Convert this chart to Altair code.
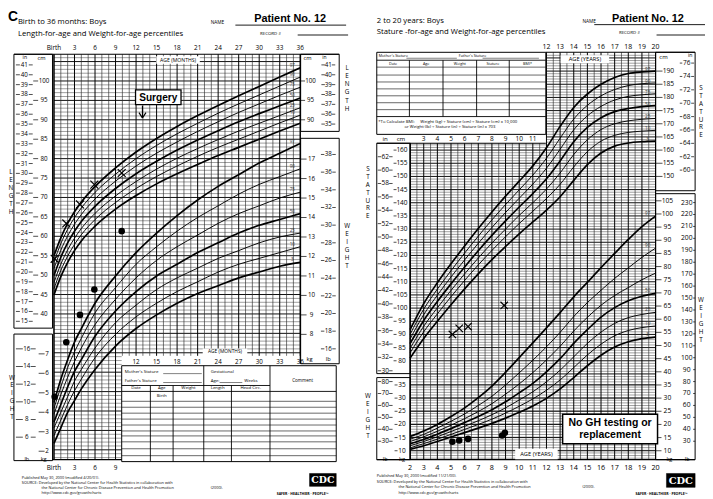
import altair as alt
import pandas as pd

# ======================= DATA =======================
PCTS = ["3", "10", "25", "50", "75", "90", "97"]
BOLD_PCTS = ["3", "50", "97"]

# Birth to 36 months, boys: length-for-age (cm)
inf_age = [0, 1, 2, 3, 4, 6, 9, 12, 15, 18, 21, 24, 27, 30, 33, 36]
len_p3 = [44.9, 49.6, 53.3, 56.3, 58.8, 62.6, 67.0, 70.5, 73.5, 76.1, 78.5, 80.8, 82.9, 85.0, 87.1, 89.1]
len_p10 = [46.5, 51.2, 54.9, 57.9, 60.4, 64.3, 68.7, 72.3, 75.4, 78.1, 80.6, 82.9, 85.0, 87.1, 89.2, 91.2]
len_p25 = [48.1, 52.8, 56.5, 59.5, 62.0, 65.9, 70.4, 74.1, 77.3, 80.1, 82.6, 84.9, 87.1, 89.1, 91.1, 93.1]
len_p50 = [49.9, 54.6, 58.3, 61.3, 63.8, 67.7, 72.3, 76.1, 79.3, 82.2, 84.8, 87.2, 89.5, 91.6, 93.6, 95.6]
len_p75 = [51.7, 56.4, 60.1, 63.1, 65.6, 69.6, 74.2, 78.1, 81.4, 84.3, 87.0, 89.5, 91.9, 94.1, 96.3, 98.4]
len_p90 = [53.4, 58.1, 61.8, 64.8, 67.3, 71.3, 76.0, 80.0, 83.4, 86.4, 89.1, 91.7, 94.1, 96.4, 98.7, 101.0]
len_p97 = [55.0, 59.6, 63.3, 66.3, 68.8, 72.8, 77.6, 81.7, 85.2, 88.3, 91.1, 93.7, 96.2, 98.6, 101.0, 103.4]

# Birth to 36 months, boys: weight-for-age (kg)
wt_p3 = [2.4, 3.2, 4.0, 4.6, 5.2, 6.2, 7.4, 8.3, 9.0, 9.6, 10.1, 10.5, 10.9, 11.2, 11.5, 11.7]
wt_p10 = [2.8, 3.6, 4.4, 5.1, 5.7, 6.8, 8.0, 8.9, 9.6, 10.2, 10.7, 11.2, 11.6, 11.9, 12.2, 12.5]
wt_p25 = [3.2, 4.0, 4.8, 5.6, 6.2, 7.3, 8.6, 9.5, 10.3, 10.9, 11.4, 11.9, 12.3, 12.7, 13.0, 13.2]
wt_p50 = [3.5, 4.4, 5.3, 6.1, 6.7, 7.9, 9.2, 10.2, 11.0, 11.6, 12.2, 12.7, 13.2, 13.6, 13.9, 14.2]
wt_p75 = [3.9, 4.9, 5.8, 6.6, 7.3, 8.5, 9.8, 10.9, 11.8, 12.5, 13.1, 13.7, 14.2, 14.6, 15.0, 15.3]
wt_p90 = [4.2, 5.3, 6.3, 7.1, 7.8, 9.1, 10.4, 11.6, 12.5, 13.3, 14.0, 14.6, 15.2, 15.7, 16.1, 16.5]
wt_p97 = [4.5, 5.7, 6.7, 7.6, 8.3, 9.6, 11.0, 12.2, 13.2, 14.1, 14.9, 15.6, 16.2, 16.8, 17.3, 17.8]

# 2 to 20 years, boys: stature-for-age (cm)
ch_age = [2, 3, 4, 5, 6, 7, 8, 9, 10, 11, 12, 13, 14, 15, 16, 17, 18, 19, 20]
st_p3 = [81.0, 88.5, 95.0, 101.3, 107.3, 113.0, 118.4, 123.4, 128.2, 132.7, 137.2, 142.3, 148.5, 154.5, 158.9, 161.5, 162.7, 163.2, 163.4]
st_p10 = [83.0, 91.0, 97.8, 104.3, 110.5, 116.4, 121.9, 127.1, 132.1, 136.8, 141.6, 147.0, 153.6, 159.4, 163.4, 165.6, 166.7, 167.2, 167.5]
st_p25 = [84.7, 93.1, 100.1, 106.7, 113.0, 119.0, 124.7, 130.0, 135.2, 140.0, 145.2, 151.3, 158.3, 163.9, 167.8, 170.0, 171.1, 171.7, 172.0]
st_p50 = [86.5, 95.3, 102.5, 109.2, 115.6, 121.8, 127.6, 133.1, 138.4, 143.5, 149.1, 155.9, 163.2, 168.6, 172.3, 174.6, 175.8, 176.5, 176.9]
st_p75 = [88.3, 97.5, 104.9, 111.8, 118.3, 124.6, 130.6, 136.3, 141.7, 147.1, 153.1, 160.3, 167.7, 173.0, 176.6, 179.0, 180.4, 181.0, 181.4]
st_p90 = [90.0, 99.6, 107.2, 114.2, 120.9, 127.3, 133.5, 139.3, 144.9, 150.5, 156.9, 164.5, 171.8, 177.0, 180.6, 183.0, 184.5, 185.2, 185.5]
st_p97 = [91.8, 101.7, 109.6, 116.8, 123.6, 130.2, 136.5, 142.5, 148.2, 154.0, 160.9, 169.0, 176.2, 181.3, 185.0, 187.6, 189.1, 189.7, 190.0]

# 2 to 20 years, boys: weight-for-age (kg)
cw_p3 = [10.5, 11.9, 13.5, 15.2, 16.9, 18.6, 20.4, 22.4, 24.6, 27.0, 29.9, 33.5, 37.8, 42.3, 46.3, 49.4, 51.4, 52.6, 53.2]
cw_p10 = [11.1, 12.7, 14.4, 16.2, 18.1, 20.0, 22.0, 24.3, 26.9, 29.7, 33.0, 36.9, 41.6, 46.4, 50.5, 53.7, 55.7, 56.8, 57.4]
cw_p25 = [11.9, 13.5, 15.3, 17.3, 19.3, 21.4, 23.7, 26.3, 29.3, 32.4, 36.2, 40.6, 45.7, 50.8, 55.1, 58.4, 60.6, 61.8, 62.6]
cw_p50 = [12.7, 14.3, 16.3, 18.4, 20.7, 23.0, 25.6, 28.6, 32.0, 35.6, 40.0, 45.0, 50.8, 56.0, 60.8, 64.4, 67.0, 68.7, 69.8]
cw_p75 = [13.5, 15.3, 17.4, 19.7, 22.2, 24.9, 27.9, 31.5, 35.4, 39.7, 44.5, 49.7, 55.5, 60.7, 65.3, 69.0, 72.0, 75.0, 77.5]
cw_p90 = [14.4, 16.2, 18.6, 21.2, 24.0, 27.2, 30.7, 35.0, 39.6, 44.4, 49.5, 55.0, 61.0, 66.3, 71.0, 75.5, 79.5, 83.5, 87.0]
cw_p97 = [15.4, 17.5, 20.0, 23.0, 26.3, 30.2, 34.6, 39.8, 45.4, 51.0, 56.7, 62.5, 68.5, 74.0, 79.6, 85.0, 90.3, 95.2, 99.2]

# Patient No. 12 measurements
inf_len_age = [0.1, 1.8, 3.8, 5.9, 9.9]
inf_len_val = [54.2, 63.3, 68.2, 73.3, 76.3]
inf_wt_age = [0.1, 1.8, 3.8, 5.9, 9.9]
inf_wt_val = [4.8, 7.6, 9.0, 10.3, 13.3]
ch_st_age = [5.1, 5.6, 6.25, 8.9]
ch_st_val = [90.0, 92.3, 93.0, 101.0]
ch_wt_age = [5.1, 5.6, 6.25, 8.75, 8.95]
ch_wt_val = [13.4, 13.9, 14.5, 15.8, 16.8]

# tick labels
inf_top_lab = ["Birth", "3", "6", "9", "12", "15", "18", "21", "24", "27", "30", "33", "36"]
inf_top_mo = [0, 3, 6, 9, 12, 15, 18, 21, 24, 27, 30, 33, 36]
inf_low_lab = ["12", "15", "18", "21", "24", "27", "30", "33", "36"]
inf_low_mo = [12, 15, 18, 21, 24, 27, 30, 33, 36]
inf_bot_lab = ["Birth", "3", "6", "9"]
inf_bot_mo = [0, 3, 6, 9]
ch_top_yr = [12, 13, 14, 15, 16, 17, 18, 19, 20]
ch_mid_yr = [3, 4, 5, 6, 7, 8, 9, 10, 11]
ch_bot_yr = list(range(2, 21))

L_len_in = list(range(15, 42))
L_len_cm = list(range(40, 101, 5))
L_wt_lb = list(range(6, 17, 2))
L_wt_kg = list(range(2, 8))
L_len_cm_r = [90, 95, 100]
L_len_in_r = list(range(35, 42))
L_wt_kg_r = list(range(8, 18))
L_wt_lb_r = list(range(16, 39, 2))
R_st_in = list(range(30, 63, 2))
R_st_cm = list(range(80, 161, 5))
R_wt_lb = list(range(30, 81, 10))
R_wt_kg = list(range(10, 36, 5))
R_st_cm_r = list(range(150, 191, 5))
R_st_in_r = list(range(60, 77, 2))
R_wt_kg_r = list(range(10, 106, 5))
R_wt_lb_r = list(range(30, 231, 10))

IN_CM = 2.54
LB_KG = 0.45359

inf_len = dict(zip(PCTS, [len_p3, len_p10, len_p25, len_p50, len_p75, len_p90, len_p97]))
inf_wt = dict(zip(PCTS, [wt_p3, wt_p10, wt_p25, wt_p50, wt_p75, wt_p90, wt_p97]))
ch_st = dict(zip(PCTS, [st_p3, st_p10, st_p25, st_p50, st_p75, st_p90, st_p97]))
ch_wt = dict(zip(PCTS, [cw_p3, cw_p10, cw_p25, cw_p50, cw_p75, cw_p90, cw_p97]))

# ======================= LAYOUT =======================
OX = OY = 8
W, H = 705, 491
FONT = "Open Sans"
BFONT = "Liberation Sans"
XPATH = "M-1,-1L1,1M-1,1L1,-1"


def sx(dom, px):
    return alt.Scale(domain=dom, range=[px[0] - OX, px[1] - OX], nice=False, zero=False)


def sy(dom, px):
    return alt.Scale(domain=dom, range=[px[0] - OY, px[1] - OY], nice=False, zero=False)


def XL():
    return sx([0, 36], [54.5, 303.6])


def YLEN():
    return sy([45, 100], [295, 79])


def YWT():
    return sy([2, 17], [453.5, 158])


def XR():
    return sx([2, 20], [414.7, 663])


def YST():
    return sy([80, 190], [362, 69])


def YWR():
    return sy([10, 100], [453, 213.5])


layers = []


def vgrid(vals, xs, ytop, ybot, bold):
    df = pd.DataFrame({"v": vals})
    df["y1"] = [ytop(v) - OY for v in vals]
    df["y2"] = [ybot(v) - OY for v in vals]
    df["w"] = [1.0 if bold(v) else 0.65 for v in vals]
    df["c"] = ["#000000" if bold(v) else "#2a2a2a" for v in vals]
    return alt.Chart(df).mark_rule().encode(
        x=alt.X("v:Q", scale=xs, axis=None),
        y=alt.Y("y1:Q", scale=None), y2="y2:Q",
        strokeWidth=alt.StrokeWidth("w:Q", scale=None),
        color=alt.Color("c:N", scale=None))


def hgrid(vals, ys, xs, x1f, x2f, bold, thin="#5c5c5c", bw=0.95):
    df = pd.DataFrame({"v": vals})
    df["x1"] = [x1f(v) for v in vals]
    df["x2"] = [x2f(v) for v in vals]
    df["w"] = [bw if bold(v) else 0.6 for v in vals]
    df["c"] = ["#000000" if bold(v) else thin for v in vals]
    return alt.Chart(df).mark_rule().encode(
        y=alt.Y("v:Q", scale=ys, axis=None),
        x=alt.X("x1:Q", scale=xs, axis=None), x2="x2:Q",
        strokeWidth=alt.StrokeWidth("w:Q", scale=None),
        color=alt.Color("c:N", scale=None))


def curves(ages, table, xs, ys):
    rows = []
    for p in PCTS:
        for a, v in zip(ages, table[p]):
            rows.append({"age": a, "val": v, "pct": p, "w": 1.7 if p in BOLD_PCTS else 0.95})
    df = pd.DataFrame(rows)
    return alt.Chart(df).mark_line(color="black", interpolate="monotone").encode(
        x=alt.X("age:Q", scale=xs, axis=None),
        y=alt.Y("val:Q", scale=ys, axis=None),
        detail="pct:N",
        strokeWidth=alt.StrokeWidth("w:Q", scale=None))


def pct_labels(ages, table, xs, ys, dx, dy):
    df = pd.DataFrame({"t": PCTS, "a": [ages[-1]] * len(PCTS), "v": [table[p][-1] for p in PCTS]})
    return alt.Chart(df).mark_text(fontSize=4.6, font=FONT, dx=dx, dy=dy, color="#333333").encode(
        x=alt.X("a:Q", scale=xs, axis=None), y=alt.Y("v:Q", scale=ys, axis=None), text="t:N")


def xmarks(ages, vals, xs, ys, size=64):
    df = pd.DataFrame({"a": ages, "v": vals})
    return alt.Chart(df).mark_point(shape=XPATH, filled=False, color="black", strokeWidth=1.2,
                                    size=size, opacity=1).encode(
        x=alt.X("a:Q", scale=xs, axis=None), y=alt.Y("v:Q", scale=ys, axis=None))


def dots(ages, vals, xs, ys, size=44):
    df = pd.DataFrame({"a": ages, "v": vals})
    return alt.Chart(df).mark_circle(color="black", size=size, opacity=1).encode(
        x=alt.X("a:Q", scale=xs, axis=None), y=alt.Y("v:Q", scale=ys, axis=None))


def texts(rows, weight="normal", align="left", font=FONT, color="black"):
    df = pd.DataFrame(rows, columns=["t", "x", "y", "s"])
    df["x"] = df["x"] - OX
    df["y"] = df["y"] - OY
    return alt.Chart(df).mark_text(align=align, baseline="middle", fontWeight=weight,
                                   font=font, color=color).encode(
        x=alt.X("x:Q", scale=None), y=alt.Y("y:Q", scale=None), text="t:N",
        size=alt.Size("s:Q", scale=None))


def rules(rows, color="black", width=0.8):
    df = pd.DataFrame(rows, columns=["x1", "y1", "x2", "y2"])
    for c in ["x1", "x2"]:
        df[c] = df[c] - OX
    for c in ["y1", "y2"]:
        df[c] = df[c] - OY
    return alt.Chart(df).mark_rule(color=color, strokeWidth=width).encode(
        x=alt.X("x1:Q", scale=None), x2="x2:Q", y=alt.Y("y1:Q", scale=None), y2="y2:Q")


def rects(rows, fill="white", stroke="black", sw=1.0, outline=False):
    df = pd.DataFrame(rows, columns=["x1", "y1", "x2", "y2"])
    for c in ["x1", "x2"]:
        df[c] = df[c] - OX
    for c in ["y1", "y2"]:
        df[c] = df[c] - OY
    if outline:
        mk = alt.Chart(df).mark_rect(filled=False, stroke=stroke, strokeWidth=sw)
    else:
        mk = alt.Chart(df).mark_rect(fill=fill, stroke=stroke, strokeWidth=sw)
    return mk.encode(x=alt.X("x1:Q", scale=None), x2="x2:Q", y=alt.Y("y1:Q", scale=None), y2="y2:Q")


def ycol(labels, vals, ys, xc, size, ticks=()):
    df = pd.DataFrame({"t": [str(l) for l in labels], "v": vals})
    out = [alt.Chart(df).mark_text(align="center", baseline="middle", fontSize=size, font=FONT).encode(
        x=alt.value(xc - OX), y=alt.Y("v:Q", scale=ys, axis=None), text="t:N")]
    for a, b in ticks:
        out.append(alt.Chart(df).mark_rule(color="black", strokeWidth=0.7).encode(
            x=alt.value(a - OX), x2=alt.value(b - OX), y=alt.Y("v:Q", scale=ys, axis=None)))
    return out


def xrow(labels, vals, xs, yc, size):
    df = pd.DataFrame({"t": [str(l) for l in labels], "v": vals})
    return alt.Chart(df).mark_text(align="center", baseline="middle", fontSize=size, font=FONT).encode(
        x=alt.X("v:Q", scale=xs, axis=None), y=alt.value(yc - OY), text="t:N")


# ---------------- left panel: grid ----------------
def len_px(c):
    return 295 - (c - 45) * 216 / 55


layers.append(hgrid(list(range(3, 107)), YLEN(), XL(),
                    lambda c: 0, lambda c: 36 if len_px(c) <= 357 else 9.9,
                    lambda c: c % 5 == 0))
layers.append(vgrid(list(range(0, 37)), XL(), lambda m: 52, lambda m: 462 if m <= 9 else 357,
                    lambda m: m % 3 == 0))

# ---------------- right panel: grid ----------------
def st_px(c):
    return 362 - (c - 80) * 293 / 110


layers.append(hgrid(list(range(43, 197)), YST(), XR(),
                    lambda c: 2 if st_px(c) >= 142 else 12, lambda c: 20,
                    lambda c: c % 5 == 0 and c >= 75))
layers.append(hgrid(list(range(10, 36, 5)), YWR(), XR(), lambda k: 2, lambda k: 20,
                    lambda k: True))
half_years = [2 + 0.5 * i for i in range(37)]
layers.append(vgrid(half_years, XR(), lambda a: 142 if a < 12 else 50, lambda a: 462,
                    lambda a: float(a).is_integer()))

# ---------------- frames / boxes ----------------
layers.append(rects([(14, 52, 53, 329), (14, 335, 53, 463), (304, 52, 343, 130),
                     (304, 137, 343, 365), (381, 142, 415, 375), (381, 379, 415, 462),
                     (663, 50, 703, 190), (663, 193, 703, 462)],
                    outline=True, sw=1.0))
layers.append(rects([(123, 367, 340, 464), (381, 50, 552, 133)], fill="white", sw=1.0))
layers.append(rules([(14, 52, 343, 52), (552, 50, 703, 50), (381, 142, 552, 142),
                     (53, 462, 123, 462), (381, 462, 703, 462), (303.6, 52, 303.6, 365),
                     (663, 50, 663, 462), (54.5, 52, 54.5, 462), (414.7, 142, 414.7, 462)],
                    width=1.1))

# left table
layers.append(rules([(206, 367, 206, 464), (273, 367, 273, 464), (152, 387, 152, 464),
                     (175, 387, 175, 464), (234, 387, 234, 464), (123, 387, 273, 387),
                     (123, 393, 340, 393)], width=0.9))
layers.append(rules([(123, y, 340, y) for y in [403, 409, 415, 421, 427, 433, 438, 444, 451, 458]],
                    width=0.6))
layers.append(rules([(165, 375, 204, 375), (165, 384, 204, 384), (222, 384, 245, 384)], width=0.5))
# right table
layers.append(rules([(381, 58, 552, 58), (381, 115, 552, 115)] +
                    [(x, 58, x, 115) for x in [414, 448, 482, 515]], width=0.9))
layers.append(rules([(381, y, 552, y) for y in [65, 73, 80, 87, 94, 101, 108]], width=0.6))
layers.append(rules([(411, 56, 462, 56), (488, 56, 545, 56)], width=0.5))

# ---------------- percentile curves ----------------
layers.append(curves(inf_age, inf_len, XL(), YLEN()))
layers.append(curves(inf_age, inf_wt, XL(), YWT()))
layers.append(curves(ch_age, ch_st, XR(), YST()))
layers.append(curves(ch_age, ch_wt, XR(), YWR()))
layers.append(pct_labels(inf_age, inf_len, XL(), YLEN(), -8, -2))
layers.append(pct_labels(inf_age, inf_wt, XL(), YWT(), -8, -2))
layers.append(pct_labels(ch_age, ch_st, XR(), YST(), -8, -1))
layers.append(pct_labels(ch_age, ch_wt, XR(), YWR(), -8, -2))

# ---------------- patient data ----------------
layers.append(xmarks(inf_len_age, inf_len_val, XL(), YLEN(), 64))
layers.append(dots(inf_wt_age, inf_wt_val, XL(), YWT(), 44))
layers.append(xmarks(ch_st_age, ch_st_val, XR(), YST(), 56))
layers.append(dots(ch_wt_age, ch_wt_val, XR(), YWR(), 44))

# ---------------- axis label columns ----------------
layers += ycol(L_len_in, [v * IN_CM for v in L_len_in], YLEN(), 24.5, 6.3, [(16, 20), (29, 33)])
layers += ycol(L_len_cm, L_len_cm, YLEN(), 44.5, 6.3, [(33.5, 38.5)])
layers += ycol(L_wt_lb, [v * LB_KG for v in L_wt_lb], YWT(), 27, 6.3, [(16, 23), (31, 36)])
layers += ycol(L_wt_kg, L_wt_kg, YWT(), 47.5, 6.3, [(39, 45)])
layers += ycol(L_len_cm_r, L_len_cm_r, YLEN(), 314, 6.3, [(304, 308.5)])
layers += ycol(L_len_in_r, [v * IN_CM for v in L_len_in_r], YLEN(), 332, 6.3, [(325, 328.5), (335.5, 339)])
layers += ycol(L_wt_kg_r, L_wt_kg_r, YWT(), 315, 6.3, [(304, 310)])
layers += ycol(L_wt_lb_r, [v * LB_KG for v in L_wt_lb_r], YWT(), 332, 6.3, [(324.5, 328), (336, 339.5)])
layers += ycol(R_st_in, [v * IN_CM for v in R_st_in], YST(), 389.5, 6.6, [(382, 385.5), (393.5, 397)])
layers += ycol(R_st_cm, R_st_cm, YST(), 406.5, 6.6, [(398, 401)])
layers += ycol(R_wt_lb, [v * LB_KG for v in R_wt_lb], YWR(), 389.5, 6.6, [(382, 385.5), (393.5, 397)])
layers += ycol(R_wt_kg, R_wt_kg, YWR(), 406.5, 6.6, [(399, 402)])
layers += ycol(R_st_cm_r, R_st_cm_r, YST(), 676, 6.8, [(663, 670)])
layers += ycol(R_st_in_r, [v * IN_CM for v in R_st_in_r], YST(), 694.5, 6.6, [(687.5, 690), (699, 702)])
layers += ycol(R_wt_kg_r, R_wt_kg_r, YWR(), 675, 6.8, [(663, 669)])
layers += ycol(R_wt_lb_r, [v * LB_KG for v in R_wt_lb_r], YWR(), 694.5, 6.8, [(701, 703)])

layers.append(xrow(inf_top_lab, inf_top_mo, XL(), 45.5, 6.5))
layers.append(xrow(inf_low_lab, inf_low_mo, XL(), 363.5, 6.3))
layers.append(xrow(inf_bot_lab, inf_bot_mo, XL(), 470, 6.5))
layers.append(xrow(ch_top_yr, ch_top_yr, XR(), 44.5, 7))
layers.append(xrow(ch_mid_yr, ch_mid_yr, XR(), 138, 6.6))
layers.append(xrow(ch_bot_yr, ch_bot_yr, XR(), 470, 7.3))

# white label boxes on the grid
layers.append(rects([(158, 54, 202, 61.5), (205, 349.5, 250, 357.5), (567, 53, 616, 61),
                     (521, 451, 564, 461.5)], fill="white", stroke="white", sw=0.1))

# ---------------- annotations ----------------
layers.append(rects([(137, 88, 183, 103)], fill="white", stroke="black", sw=1.3))
layers.append(rules([(144, 104, 144, 116.5), (140.5, 111, 144, 116.5), (147.5, 111, 144, 116.5)],
                    width=1.2))
layers.append(rects([(569, 416, 665, 446)], fill="white", stroke="black", sw=1.5))
layers.append(texts([("Surgery", 160, 95.8, 10.2), ("No GH testing or", 617, 424.5, 10.6),
                     ("replacement", 617, 437.5, 10.6)], weight="bold", align="center", font=BFONT))

# ---------------- header texts ----------------
layers.append(texts([("C", 8, 14, 14), ("Patient No. 12", 257, 16.5, 11), ("Patient No. 12", 619, 16.5, 11)],
                    weight="bold", font=BFONT))
layers.append(rules([(238, 22.5, 350, 22.5), (301, 32.5, 352, 32.5), (601, 22, 713, 22), (664, 32.5, 713, 32.5)],
                    width=0.9))
layers.append(texts([
    ("Birth to 36 months: Boys", 18, 19.5, 7.8),
    ("Length-for-age and  Weight-for-age percentiles", 18, 31, 7.8),
    ("2 to 20 years: Boys", 381, 18.5, 7.8),
    ("Stature -for-age and  Weight-for-age percentiles", 381, 29.5, 7.8),
    ("NAME", 213, 20, 4.8), ("NAME", 589, 19.5, 4.8),
    ("RECORD #", 263, 31, 4.4), ("RECORD #", 626, 30.5, 4.4),
    # left table
    ("Mother's Stature", 126, 373, 4.4), ("Father's Stature", 126, 382, 4.4),
    ("Gestational", 213, 373, 4.4), ("Age:", 213, 382, 4.4), ("Weeks", 247, 382, 4.4),
    # right table
    ("Mother's Stature", 383, 54, 3.8), ("Father's Stature", 464, 54, 3.8),
    ("*To Calculate BMI:", 382.5, 120, 4.3),
    # footers
    ("Published May 30, 2000 (modified 4/20/01).", 22, 481, 3.9),
    ("SOURCE: Developed by the National Center for Health Statistics in collaboration with", 22, 486, 3.9),
    ("the National Center for Chronic Disease Prevention and Health Promotion", 42, 491, 3.9),
    ("(2000).", 213, 491, 3.9),
    ("http://www.cdc.gov/growthcharts", 42, 496, 3.9),
    ("Published May 30, 2000 (modified 11/21/00).", 381, 479, 3.9),
    ("SOURCE: Developed by the National Center for Health Statistics in collaboration with", 381, 484.5, 3.9),
    ("the National Center for Chronic Disease Prevention and Health Promotion", 403, 490, 3.9),
    ("(2000).", 589, 490, 3.9),
    ("http://www.cdc.gov/growthcharts", 403, 495.5, 3.9),
]))
layers.append(texts([("Weight (kg) ÷ Stature (cm) ÷ Stature (cm) x 10,000", 425, 120, 4.3),
                     ("or Weight (lb) ÷ Stature (in) ÷ Stature (in) x 703", 409, 126, 4.3)]))
layers.append(texts([
    ("Comment", 306, 382, 4.6), ("Date", 137.5, 390, 4.4), ("Age", 163.5, 390, 4.4),
    ("Birth", 163.5, 398, 4.4), ("Weight", 190.5, 390, 4.4), ("Length", 220, 390, 4.4),
    ("Head  Circ.", 253.5, 390, 4.4),
    ("Date", 397.5, 61.5, 3.8), ("Age", 431, 61.5, 3.8), ("Weight", 465, 61.5, 3.8),
    ("Stature", 498.5, 61.5, 3.8), ("BMI*", 533.5, 61.5, 3.8),
    ("AGE (MONTHS)", 180, 58, 5.2), ("AGE (MONTHS)", 227.5, 353.5, 4.9),
    ("AGE (YEARS)", 591.5, 57, 5.8), ("AGE (YEARS)", 542.5, 456.5, 5.8),
    ("in", 25, 54.5, 5.2), ("cm", 42, 55.5, 5.8), ("cm", 311, 55.5, 5.8), ("in", 328, 54.3, 5.0),
    ("lb", 27, 461, 5.6), ("kg", 44, 461, 5.6), ("kg", 313, 360, 5.8), ("lb", 332, 360, 5.8),
    ("in", 389.5, 138, 6.2), ("cm", 405.5, 138, 6.2), ("cm", 671, 54.5, 6.0), ("in", 698, 53, 5.2),
    ("lb", 389.5, 461, 5.6), ("kg", 406.5, 461, 5.6), ("kg", 677, 461, 5.6), ("lb", 695, 461, 5.6),
], align="center"))


# vertical letter labels
def letters(word, x, y0, step):
    return [(ch, x, y0 + i * step, 6.4) for i, ch in enumerate(word)]


layers.append(texts(letters("LENGTH", 11, 171, 8.2) + letters("LENGTH", 351, 66, 8.2) +
                    letters("WEIGHT", 12, 379, 8) + letters("WEIGHT", 351, 226, 8) +
                    letters("STATURE", 372, 168, 8) + letters("STATURE", 709, 86, 8) +
                    letters("WEIGHT", 372, 398, 8) + letters("WEIGHT", 709, 301, 8),
                    align="center"))

# CDC logos
layers.append(rects([(313, 476, 340, 489), (674, 476, 703, 490)], fill="black", stroke="black", sw=0.5))
layers.append(texts([("CDC", 326.5, 482.8, 9.5), ("CDC", 688.5, 483.2, 10)], weight="bold",
                    align="center", font="DejaVu Serif", color="white"))
layers.append(texts([("SAFER \u00b7 HEALTHIER \u00b7 PEOPLE\u2122", 306, 497, 3.6),
                     ("SAFER \u00b7 HEALTHIER \u00b7 PEOPLE\u2122", 669, 497, 3.6)],
                    weight="bold", align="center"))

chart = alt.layer(*layers).resolve_scale(x="independent", y="independent").properties(
    width=W, height=H, padding=0, autosize=alt.AutoSizeParams(type="none"),
    background="white").configure_view(strokeWidth=0)

chart.save("out.html", embed_options={"renderer": "svg", "actions": False})
